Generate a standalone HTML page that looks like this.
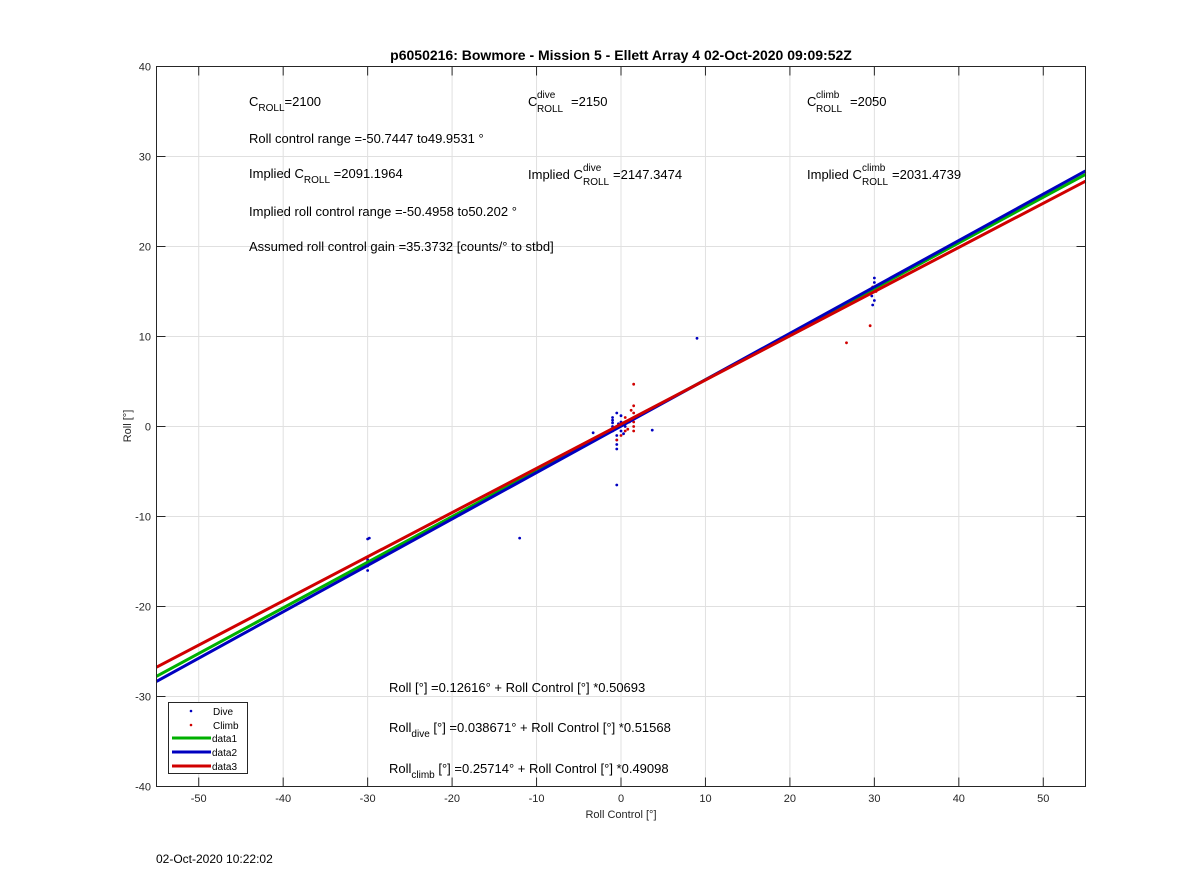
<!DOCTYPE html>
<html><head><meta charset="utf-8"><style>
body{margin:0;background:#fff}
svg{display:block;font-family:"Liberation Sans",Arial,sans-serif}
</style></head><body>
<svg id="chart" width="1200" height="885" viewBox="0 0 1200 885" xmlns="http://www.w3.org/2000/svg">
<rect width="1200" height="885" fill="#fff"/>
<g id="grid"></g>
<g id="marks"></g>
<rect x="156.5" y="66.5" width="929" height="720" fill="none" stroke="#262626" stroke-width="1"/>
<g id="ticks" font-size="11" fill="#262626"></g>
<text x="621" y="60" text-anchor="middle" font-size="14" font-weight="bold" fill="#000">p6050216: Bowmore - Mission 5 - Ellett Array 4 02-Oct-2020 09:09:52Z</text>
<text x="621" y="818" text-anchor="middle" font-size="11" fill="#262626">Roll Control [°]</text>
<text transform="translate(131,426) rotate(-90)" text-anchor="middle" font-size="11" fill="#262626">Roll [°]</text>
<text x="156" y="863" font-size="12" fill="#000">02-Oct-2020 10:22:02</text>
<g font-size="13" fill="#000">
<text x="249" y="106">C<tspan font-size="10" dy="5">ROLL</tspan><tspan dy="-5">=2100</tspan></text>
<text x="528" y="106">C</text><text x="537" y="98" font-size="10">dive</text><text x="537" y="112" font-size="10">ROLL</text><text x="571" y="106">=2150</text>
<text x="807" y="106">C</text><text x="816" y="98" font-size="10">climb</text><text x="816" y="112" font-size="10">ROLL</text><text x="850" y="106">=2050</text>
<text x="249" y="143">Roll control range =-50.7447 to49.9531 °</text>
<text x="249" y="178">Implied C<tspan font-size="10" dy="5">ROLL</tspan><tspan dy="-5"> =2091.1964</tspan></text>
<text x="528" y="179">Implied C</text><text x="583" y="171" font-size="10">dive</text><text x="583" y="185" font-size="10">ROLL</text><text x="613" y="179">=2147.3474</text>
<text x="807" y="179">Implied C</text><text x="862" y="171" font-size="10">climb</text><text x="862" y="185" font-size="10">ROLL</text><text x="892" y="179">=2031.4739</text>
<text x="249" y="216">Implied roll control range =-50.4958 to50.202 °</text>
<text x="249" y="251">Assumed roll control gain =35.3732 [counts/° to stbd]</text>
<text x="389" y="692">Roll [°] =0.12616° + Roll Control [°] *0.50693</text>
<text x="389" y="732">Roll<tspan font-size="10" dy="5">dive</tspan><tspan dy="-5"> [°] =0.038671° + Roll Control [°] *0.51568</tspan></text>
<text x="389" y="773">Roll<tspan font-size="10" dy="5">climb</tspan><tspan dy="-5"> [°] =0.25714° + Roll Control [°] *0.49098</tspan></text>
</g>
<g font-size="10" fill="#000">
<rect x="168.5" y="702.5" width="79" height="71" fill="#fff" stroke="#262626"/>
<circle cx="191" cy="711" r="1.3" fill="#0000c0"/><text x="213" y="715">Dive</text>
<circle cx="191" cy="725" r="1.3" fill="#d00000"/><text x="213" y="729">Climb</text>
<line x1="172" y1="738" x2="211" y2="738" stroke="#00b000" stroke-width="3"/><text x="212" y="742">data1</text>
<line x1="172" y1="752" x2="211" y2="752" stroke="#0000c0" stroke-width="3"/><text x="212" y="756">data2</text>
<line x1="172" y1="766" x2="211" y2="766" stroke="#d00000" stroke-width="3"/><text x="212" y="770">data3</text>
</g>
</svg>
<script>
const xTicks=[-50,-40,-30,-20,-10,0,10,20,30,40,50];
const yTicks=[-40,-30,-20,-10,0,10,20,30,40];
const fitIntercepts=[0.12616,0.038671,0.25714];
const fitSlopes=[0.50693,0.51568,0.49098];
const fitColors=['#00b000','#0000c0','#d00000'];
const diveX=[-30,-29.8,-30,-30,-30,-30,-12,9,-0.5,3.7,-3.3,30,30,30,29.8,30,30,29.7,-1,-1,-1,-0.5,-0.5,-0.5,0,0,0.5,-0.5,-1,0,0.3,-0.3,-1,-1,-0.5];
const diveY=[-12.5,-12.4,-15,-15.5,-16,-14.8,-12.4,9.8,-6.5,-0.4,-0.7,16.5,16,15.5,13.5,14,15,14.5,0,1,-0.5,1.5,-2.5,-1.5,0.5,-0.5,0,-1,0.7,1.2,-0.8,0.3,0.4,-0.2,-2];
const climbX=[29.5,26.7,30,30,29.8,30.2,1.5,1.5,1.5,1.5,1.5,1.5,0.5,0.5,0,-0.5,-0.5,1,-30,-30,0.8,1.2,1.5,0.5];
const climbY=[11.2,9.3,15,15.5,15.5,15,4.7,2.3,1.5,0,-0.5,1,1,0.5,-1,-1.5,0,0.5,-14.5,-15,-0.3,1.8,0.5,-0.5];
const NS='http://www.w3.org/2000/svg';
const X=v=>156.5+(v+55)/110*929;
const Y=v=>66.5+(40-v)/80*720;
function mk(t,a,p){const e=document.createElementNS(NS,t);for(const k in a)e.setAttribute(k,a[k]);p.appendChild(e);return e;}
const grid=document.getElementById('grid'),ticks=document.getElementById('ticks'),marks=document.getElementById('marks');
xTicks.forEach(t=>{
const l=mk('line',{x1:X(t),x2:X(t),y1:66.5,y2:786.5,stroke:'#e0e0e0'},grid);


mk('line',{x1:X(t),x2:X(t),y1:786.5,y2:777.5,stroke:'#262626'},ticks);
mk('line',{x1:X(t),x2:X(t),y1:66.5,y2:75.5,stroke:'#262626'},ticks);
const tx=mk('text',{x:X(t),y:802,'text-anchor':'middle'},ticks);tx.textContent=t;


});
yTicks.forEach(t=>{
const l=mk('line',{x1:156.5,x2:1085.5,y1:Y(t),y2:Y(t),stroke:'#e0e0e0'},grid);


mk('line',{x1:156.5,x2:165.5,y1:Y(t),y2:Y(t),stroke:'#262626'},ticks);
mk('line',{x1:1085.5,x2:1076.5,y1:Y(t),y2:Y(t),stroke:'#262626'},ticks);
const tx=mk('text',{x:151,y:Y(t)+4,'text-anchor':'end'},ticks);tx.textContent=t;


});
diveX.forEach((x,i)=>{const c=mk('circle',{cx:X(x),cy:Y(diveY[i]),r:1.4,fill:'#0000c0'},marks);

});
climbX.forEach((x,i)=>{const c=mk('circle',{cx:X(x),cy:Y(climbY[i]),r:1.4,fill:'#d00000'},marks);

});
fitSlopes.forEach((m,i)=>{const b=fitIntercepts[i];
const l=mk('line',{x1:X(-55),y1:Y(b+m*-55),x2:X(55),y2:Y(b+m*55),stroke:fitColors[i],'stroke-width':3},marks);

});
</script>
</body></html>
